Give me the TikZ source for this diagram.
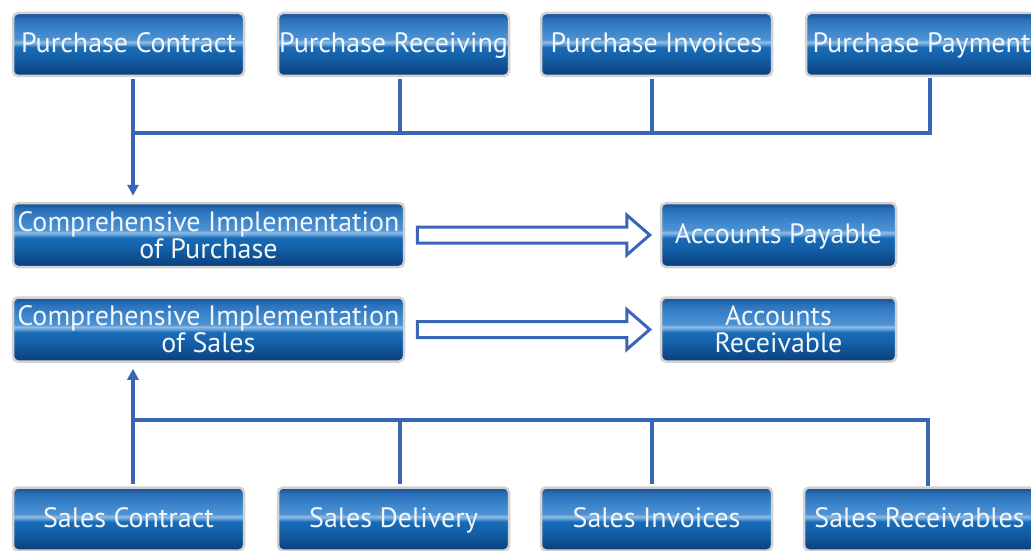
\documentclass[tikz,border=0pt]{standalone}
\usepackage{fontspec}
\setmainfont{PT Sans}
\usetikzlibrary{calc,arrows.meta}
\definecolor{linkblue}{HTML}{3A66B8}
\definecolor{rimgray}{HTML}{D2D2D2}
\definecolor{txtwhite}{HTML}{F2F6FA}
\definecolor{gA}{HTML}{0B3D75}
\definecolor{gB}{HTML}{0E4A8A}
\definecolor{gC}{HTML}{1360A8}
\definecolor{gD}{HTML}{1A6CB6}
\definecolor{gE}{HTML}{5C9CD6}
\definecolor{gF}{HTML}{8FBDE6}
\definecolor{gG}{HTML}{4E92D2}
\definecolor{gH}{HTML}{3A84CB}
\definecolor{gI}{HTML}{2A70B8}
\definecolor{gJ}{HTML}{174E8F}
\pgfdeclareverticalshading{glossy}{100bp}{%
  color(0bp)=(gA);
  color(25bp)=(gA);
  color(30bp)=(gB);
  color(40bp)=(gC);
  color(48bp)=(gD);
  color(50bp)=(gE);
  color(52bp)=(gF);
  color(54bp)=(gG);
  color(62bp)=(gH);
  color(70bp)=(gI);
  color(75bp)=(gJ);
  color(100bp)=(gJ)}
\tikzset{
  glossbox/.style={draw=rimgray, line width=2.5pt, rounded corners=5pt,
    shading=glossy, minimum width=231pt, minimum height=63pt,
    text=txtwhite, align=center, inner sep=0pt,
    text height=21.5pt, text depth=4.5pt,
    font=\fontsize{28}{27}\selectfont},
  widebox/.style={glossbox, minimum width=391pt, minimum height=64pt},
  twoline/.style={text height=, text depth=},
  smallbox/.style={glossbox, minimum width=235pt, minimum height=64pt},
  link/.style={draw=linkblue, line width=3.2pt},
  linkarrow/.style={link, -{Triangle[length=11pt,width=11pt]}},
  hollowarrow/.style={draw=linkblue, line width=3pt, line join=miter}
}
\begin{document}
\begin{tikzpicture}[x=1pt,y=-1pt]
\useasboundingbox (0,0) rectangle (1031,551);
\fill[white] (0,0) rectangle (1031,551);
\clip (0,0) rectangle (1031,551);

% top row
\node[glossbox] (pc) at (128.5,44.5) {Purchase Contract};
\node[glossbox] (pr) at (393.5,44.5) {Purchase Receiving};
\node[glossbox] (pi) at (656.5,44.5) {Purchase Invoices};
\node[glossbox] (pp) at (921.5,44.5) {Purchase Payment};

% middle rows
\node[widebox, twoline] (cip) at (208.5,235) {Comprehensive Implementation\\of Purchase};
\node[smallbox] (ap) at (778.5,235) {Accounts Payable};
\node[widebox, twoline] (cis) at (208.5,329.5) {Comprehensive Implementation\\of Sales};
\node[smallbox, twoline] (ar) at (778.5,329.5) {Accounts\\Receivable};

% bottom row
\node[glossbox] (sc) at (128.5,519) {Sales Contract};
\node[glossbox] (sd) at (393.5,519) {Sales Delivery};
\node[glossbox] (si) at (656.5,519) {Sales Invoices};
\node[glossbox] (sr) at (919.5,519) {Sales Receivables};

% junctions
\coordinate (ja) at (133,133);
\coordinate (jb) at (400,133);
\coordinate (jc) at (652,133);
\coordinate (jd) at (930,133);
\coordinate (je) at (133,420);
\coordinate (jf) at (400,420);
\coordinate (jg) at (652,420);
\coordinate (jh) at (928,420);

% purchase connectors
\draw[linkarrow, shorten >=6pt, shorten <=2pt] (pc.south -| ja) -- (cip.north -| ja);
\draw[link, line cap=rect] (ja) -- (jd);
\draw[link, shorten <=2pt] (pr.south -| jb) -- (jb);
\draw[link, shorten <=2pt] (pi.south -| jc) -- (jc);
\draw[link, shorten <=2pt, line cap=rect] (pp.south -| jd) -- (jd);

% sales connectors
\draw[linkarrow, shorten >=6pt, shorten <=2pt] (sc.north -| je) -- (cis.south -| je);
\draw[link, line cap=rect] (je) -- (jh);
\draw[link, shorten <=2pt] (sd.north -| jf) -- (jf);
\draw[link, shorten <=2pt] (si.north -| jg) -- (jg);
\draw[link, shorten <=2pt, line cap=rect] (sr.north -| jh) -- (jh);

% hollow arrows
\draw[hollowarrow] ($(cip.east)+(12,-8)$) -- ($(ap.west)+(-33,-8)$) -- ($(ap.west)+(-33,-20)$)
  -- ($(ap.west)+(-10,0)$) -- ($(ap.west)+(-33,20)$) -- ($(ap.west)+(-33,8)$)
  -- ($(cip.east)+(12,8)$) -- cycle;
\draw[hollowarrow] ($(cis.east)+(12,-8)$) -- ($(ar.west)+(-33,-8)$) -- ($(ar.west)+(-33,-20)$)
  -- ($(ar.west)+(-10,0)$) -- ($(ar.west)+(-33,20)$) -- ($(ar.west)+(-33,8)$)
  -- ($(cis.east)+(12,8)$) -- cycle;
\end{tikzpicture}
\end{document}
